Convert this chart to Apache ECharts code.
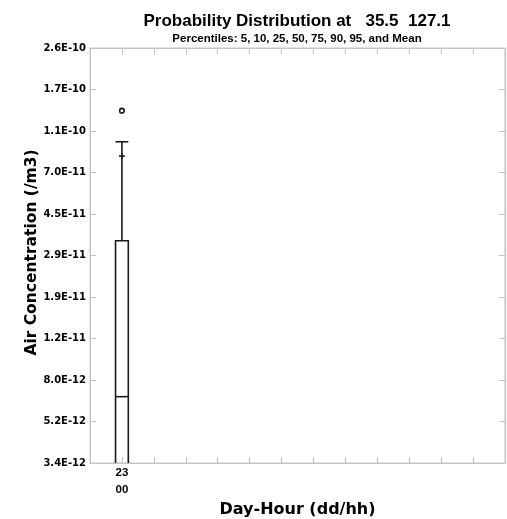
<!DOCTYPE html>
<html>
<head>
<meta charset="utf-8">
<script src="https://cdn.jsdelivr.net/npm/echarts@6/dist/echarts.min.js"></script>
<style>
  html, body { margin: 0; padding: 0; background: #fff; }
  #chart { width: 507px; height: 519px; }
</style>
</head>
<body>
<div id="chart"></div>
<script>
// y axis: log scale, 10 equal log steps between min and max
const yTickLabels = ['3.4E-12', '5.2E-12', '8.0E-12', '1.2E-11', '1.9E-11', '2.9E-11',
                     '4.5E-11', '7.0E-11', '1.1E-10', '1.7E-10', '2.6E-10'];
const yMin = 3.4e-12;
const yMax = 2.6e-10;

// x axis: day-hour slots
const dayHours = ['23\n00'];
const slots = [1];

// percentiles per slot (values below the axis minimum are clipped)
const p5 = [2.0e-13];
const p10 = [4.0e-13];
const p25 = [1.0e-12];
const p50 = [6.8e-12];
const p75 = [3.47e-11];
const p90 = [9.76e-11];
const p95 = [1.35e-10];
const mean = [8.4e-11];

const LOG_MIN = Math.log10(yMin);
const LOG_STEP = (Math.log10(yMax) - LOG_MIN) / (yTickLabels.length - 1);
// log scale -> tick-step units
const toAxis = v => (Math.log10(v) - LOG_MIN) / LOG_STEP;

const chart = echarts.init(document.getElementById('chart'));

const FONT = 'Liberation Sans';
const WIDE = 'DejaVu Sans';
const frame = '#c4c4c4';
const ink = '#1a1a1a';

const boxData = slots.map((s, i) => [s, p5[i], p10[i], p25[i], p50[i], p75[i], p90[i], p95[i], mean[i]]);

function renderBox(params, api) {
  const x = api.value(0);
  const v = k => toAxis(api.value(k));
  const half = 0.2;
  const pt = (xx, yy) => api.coord([xx, yy]);
  const L = pt(x - half, 0)[0], R = pt(x + half, 0)[0], C = pt(x, 0)[0];
  const y25 = pt(x, v(3))[1], y50 = pt(x, v(4))[1], y75 = pt(x, v(5))[1];
  const y10 = pt(x, v(2))[1], y90 = pt(x, v(6))[1];
  const y5 = pt(x, v(1))[1], y95 = pt(x, v(7))[1], ym = pt(x, v(8))[1];
  const line = { stroke: ink, lineWidth: 1.6, fill: null };
  return {
    type: 'group',
    children: [
      { type: 'rect', shape: { x: L, y: y75, width: R - L, height: y25 - y75 }, style: line },
      { type: 'line', shape: { x1: L, y1: y50, x2: R, y2: y50 }, style: line },
      { type: 'line', shape: { x1: C, y1: y75, x2: C, y2: y90 }, style: line },
      { type: 'line', shape: { x1: L, y1: y90, x2: R, y2: y90 }, style: line },
      { type: 'line', shape: { x1: C, y1: y25, x2: C, y2: y10 }, style: line },
      { type: 'line', shape: { x1: L, y1: y10, x2: R, y2: y10 }, style: line },
      { type: 'circle', shape: { cx: C, cy: y95, r: 2.3 }, style: line },
      { type: 'circle', shape: { cx: C, cy: y5, r: 2.3 }, style: line },
      { type: 'line', shape: { x1: C - 3, y1: ym, x2: C + 3, y2: ym }, style: line },
      { type: 'line', shape: { x1: C, y1: ym - 3, x2: C, y2: ym + 3 }, style: line }
    ]
  };
}

const gridSide = { show: true, inside: true, length: 6, lineStyle: { color: frame, width: 1 } };

chart.setOption({
  animation: false,
  title: [
    {
      text: 'Probability Distribution at   35.5  127.1',
      left: 297, top: 12.5, padding: 0, textAlign: 'center',
      textStyle: { fontFamily: FONT, fontWeight: 'bold', fontSize: 17, color: '#000' }
    },
    {
      text: 'Percentiles: 5, 10, 25, 50, 75, 90, 95, and Mean',
      left: 297, top: 32.5, padding: 0, textAlign: 'center',
      textStyle: { fontFamily: FONT, fontWeight: 'bold', fontSize: 11.5, color: '#000' }
    }
  ],
  grid: {
    left: 90, right: 2, top: 48, bottom: 56,
    outerBoundsMode: 'none',
    show: true, borderColor: frame, borderWidth: 1
  },
  xAxis: [
    {
      type: 'value', min: 0, max: 13, interval: 1,
      axisLine: { show: true, onZero: false, lineStyle: { color: frame } },
      axisTick: gridSide,
      splitLine: { show: false },
      axisLabel: {
        margin: 1, fontFamily: FONT, fontWeight: 'bold', fontSize: 11.5, color: '#000', lineHeight: 17,
        formatter: v => { const i = slots.indexOf(v); return i >= 0 ? dayHours[i] : ''; }
      },
      name: 'Day-Hour (dd/hh)', nameLocation: 'middle', nameGap: 38.5, nameMoveOverlap: false,
      nameTextStyle: { fontFamily: WIDE, fontWeight: 'bold', fontSize: 16, color: '#000' }
    },
    {
      type: 'value', position: 'top', min: 0, max: 13, interval: 1,
      axisLine: { show: true, onZero: false, lineStyle: { color: frame } },
      axisTick: gridSide, axisLabel: { show: false }, splitLine: { show: false }
    }
  ],
  yAxis: [
    {
      type: 'value', min: 0, max: yTickLabels.length - 1, interval: 1,
      axisLine: { show: true, onZero: false, lineStyle: { color: frame } },
      axisTick: gridSide,
      splitLine: { show: false },
      axisLabel: {
        margin: 4, fontFamily: WIDE, fontWeight: 'bold', fontSize: 10, color: '#000',
        formatter: v => yTickLabels[Math.round(v)]
      },
      name: 'Air Concentration (/m3)', nameLocation: 'middle', nameGap: 50, nameMoveOverlap: false,
      nameTextStyle: { fontFamily: WIDE, fontWeight: 'bold', fontSize: 15.5, color: '#000', padding: [0, 0, 0, 6] }
    },
    {
      type: 'value', position: 'right', min: 0, max: yTickLabels.length - 1, interval: 1,
      axisLine: { show: true, onZero: false, lineStyle: { color: frame } },
      axisTick: gridSide, axisLabel: { show: false }, splitLine: { show: false }
    }
  ],
  series: [
    {
      type: 'custom',
      clip: true,
      renderItem: renderBox,
      data: boxData,
      encode: { x: 0, y: 4 }
    }
  ]
});
</script>
</body>
</html>
